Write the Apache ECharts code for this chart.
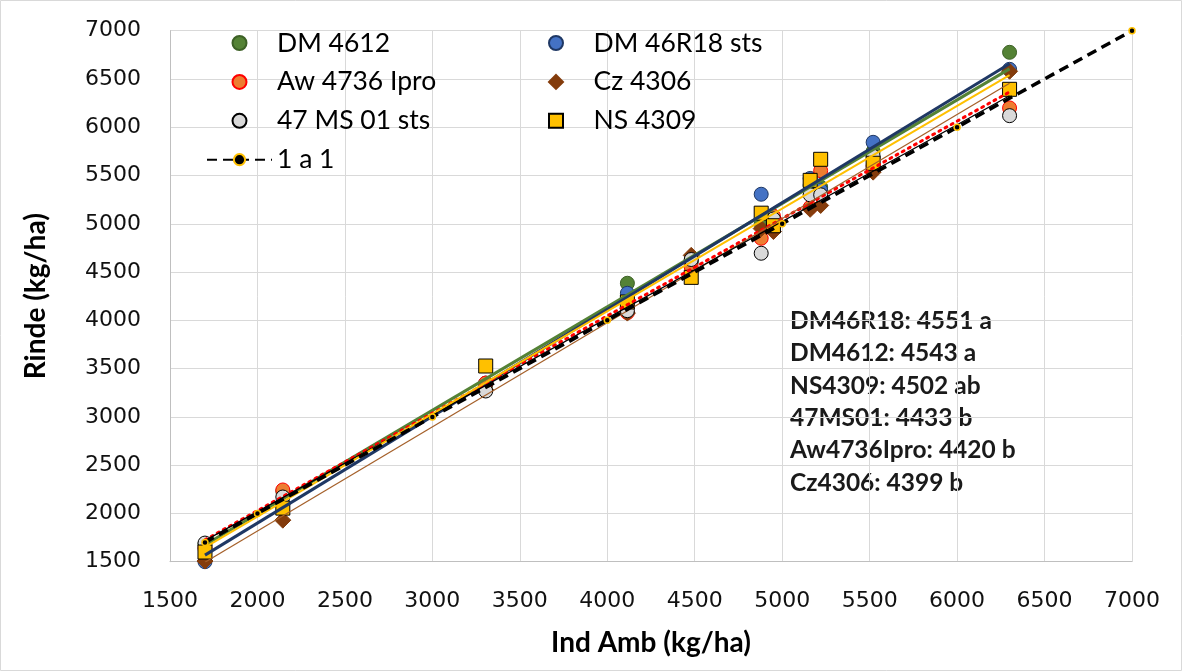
<!DOCTYPE html>
<html><head><meta charset="utf-8">
<script src="https://cdn.jsdelivr.net/npm/echarts@6/dist/echarts.min.js"></script>
<style>html,body{margin:0;padding:0;background:#fff}#c{width:1182px;height:671px}</style>
</head><body><div id="c"></div>
<script>
// Environment index (x) for each site
const envX = [1700, 2145, 3305, 4115, 4480, 4880, 4950, 5160, 5220, 5520, 6300];
// Yields per cultivar (kg/ha)
const dm4612  = [1680, 2230, 3330, 4384, 4600, 5000, 5050, 5400, 5380, 5750, 6776];
const dm46r18 = [1500, 2100, 3350, 4280, 4620, 5306, 5000, 5470, 5350, 5844, 6600];
const aw4736  = [1640, 2243, 3350, 4080, 4550, 4850, 5080, 5170, 5550, 5600, 6200];
const cz4306  = [1507, 1930, 3280, 4075, 4673, 4950, 4920, 5150, 5190, 5535, 6580];
const ms4701  = [1693, 2170, 3268, 4100, 4630, 4695, 5050, 5300, 5300, 5700, 6120];
const ns4309  = [1600, 2055, 3527, 4190, 4445, 5110, 4980, 5450, 5668, 5627, 6393];
// 1:1 reference
const oneX = [1700, 2000, 3000, 4000, 5000, 6000, 7000];
const seriesNames = ['DM 4612', 'DM 46R18 sts', 'Aw 4736 Ipro', 'Cz 4306', '47 MS 01 sts', 'NS 4309', '1 a 1'];
const xTicks = {min: 1500, max: 7000, interval: 500};
const yTicks = {min: 1500, max: 7000, interval: 500};
const notes = ['DM46R18: 4551 a', 'DM4612: 4543 a', 'NS4309: 4502 ab', '47MS01: 4433 b', 'Aw4736Ipro: 4420 b', 'Cz4306: 4399 b'];

function pairs(xs, ys) { return xs.map((x, i) => [x, ys[i]]); }
function trend(xs, ys) {
  const n = xs.length;
  const mx = xs.reduce((a, b) => a + b, 0) / n;
  const my = ys.reduce((a, b) => a + b, 0) / n;
  let sxy = 0, sxx = 0;
  for (let i = 0; i < n; i++) { sxy += (xs[i] - mx) * (ys[i] - my); sxx += (xs[i] - mx) ** 2; }
  const b = sxy / sxx, a = my - b * mx;
  const x0 = Math.min(...xs), x1 = Math.max(...xs);
  return [[x0, a + b * x0], [x1, a + b * x1]];
}

const DIAMOND = 'path://M0,-1L1,0L0,1L-1,0Z';
const SQUARE = 'path://M0,0L1,0L1,1L0,1Z';
const defs = [
  {name: seriesNames[0], ys: dm4612, symbol: 'circle', icon: 'circle', size: 14, fill: '#548235', border: '#3d6126', line: {color: '#548235', width: 3, type: 'solid'}},
  {name: seriesNames[1], ys: dm46r18, symbol: 'circle', icon: 'circle', size: 14, fill: '#4472C4', border: '#1F3864', line: {color: '#1F3864', width: 3, type: 'solid'}},
  {name: seriesNames[2], ys: aw4736, symbol: 'circle', icon: 'circle', size: 14, fill: '#ED7D31', border: '#FF0000', line: {color: '#FF0000', width: 3, type: [2, 5], cap: 'round'}},
  {name: seriesNames[3], ys: cz4306, symbol: 'diamond', icon: DIAMOND, size: 16, fill: '#843C0C', border: '#843C0C', line: {color: '#A5602A', width: 1.25, type: 'solid'}},
  {name: seriesNames[4], ys: ms4701, symbol: 'circle', icon: 'circle', size: 14, fill: '#D9D9D9', border: '#000000', line: {color: '#000000', width: 1.25, type: 'solid'}},
  {name: seriesNames[5], ys: ns4309, symbol: 'rect', icon: SQUARE, size: 14, fill: '#FFC000', border: '#000000', line: {color: '#FFC000', width: 2, type: 'solid'}}
];

const series = [];
defs.forEach(d => {
  series.push({
    name: d.name, type: 'scatter', data: pairs(envX, d.ys), symbol: d.symbol, symbolSize: d.size,
    itemStyle: {color: d.fill, borderColor: d.border, borderWidth: 1, opacity: 1}, z: 2
  });
});
defs.forEach(d => {
  series.push({
    name: d.name + ' tendencia', type: 'line', data: trend(envX, d.ys), showSymbol: false, symbol: 'none',
    lineStyle: {color: d.line.color, width: d.line.width, type: d.line.type, cap: d.line.cap || 'butt'}, z: 3, silent: true
  });
});
series.push({
  name: seriesNames[6], type: 'line', data: pairs(oneX, oneX), symbol: 'circle', symbolSize: 6, showSymbol: true,
  itemStyle: {color: '#000000', borderColor: '#FFC000', borderWidth: 1.5},
  lineStyle: {color: '#000000', width: 3.5, type: [10, 6]}, z: 4
});

const legendText = {fontFamily: 'Lato', fontSize: 26.5, color: '#000', lineHeight: 30};
function legendItem(name) {
  const d = defs.find(e => e.name === name);
  return d ? {name: name, icon: d.icon} : {name: name};
}
const plain = v => String(v);
const chart = echarts.init(document.getElementById('c'), null, {renderer: 'canvas'});
chart.setOption({
  animation: false,
  backgroundColor: '#ffffff',
  grid: {left: 170, right: 50, top: 30.7, bottom: 109.3, containLabel: false},
  xAxis: {
    type: 'value', min: xTicks.min, max: xTicks.max, interval: xTicks.interval,
    name: 'Ind Amb (kg/ha)', nameLocation: 'middle', nameGap: 67,
    nameTextStyle: {fontFamily: 'Lato', fontWeight: 'bold', fontSize: 28, color: '#000'},
    axisLine: {show: true, lineStyle: {color: '#bfbfbf', width: 1}}, axisTick: {show: false},
    axisLabel: {fontFamily: 'DejaVu Sans', fontSize: 22, color: '#111', margin: 29, formatter: plain},
    splitLine: {show: true, lineStyle: {color: '#d9d9d9', width: 1}}
  },
  yAxis: {
    type: 'value', min: yTicks.min, max: yTicks.max, interval: yTicks.interval,
    name: 'Rinde (kg/ha)', nameLocation: 'middle', nameGap: 120,
    nameTextStyle: {fontFamily: 'Lato', fontWeight: 'bold', fontSize: 28, color: '#000'},
    axisLine: {show: true, lineStyle: {color: '#bfbfbf', width: 1}}, axisTick: {show: false},
    axisLabel: {fontFamily: 'DejaVu Sans', fontSize: 22, color: '#111', margin: 29, formatter: plain},
    splitLine: {show: true, lineStyle: {color: '#d9d9d9', width: 1}}
  },
  legend: [
    {orient: 'vertical', left: 206, top: 28, padding: 0, itemWidth: 65, itemHeight: 14, itemGap: 8.9, symbolKeepAspect: true,
     data: [seriesNames[0], seriesNames[2], seriesNames[4], seriesNames[6]].map(legendItem), textStyle: legendText},
    {orient: 'vertical', left: 548, top: 28, padding: 0, itemWidth: 65, itemHeight: 14, itemGap: 8.9, symbolKeepAspect: true,
     data: [seriesNames[1], seriesNames[3], seriesNames[5]].map(legendItem), textStyle: legendText}
  ],
  graphic: [
    {type: 'rect', shape: {x: 0.5, y: 0.5, width: 1181, height: 670}, style: {fill: 'none', stroke: '#d9d9d9', lineWidth: 1}, silent: true},
    {type: 'text', left: 790, top: 305, style: {text: notes.join('\n'), font: 'bold 24.5px Lato', lineHeight: 32.3, fill: '#1a1a1a'}}
  ],
  series: series
});
</script>
</body></html>
